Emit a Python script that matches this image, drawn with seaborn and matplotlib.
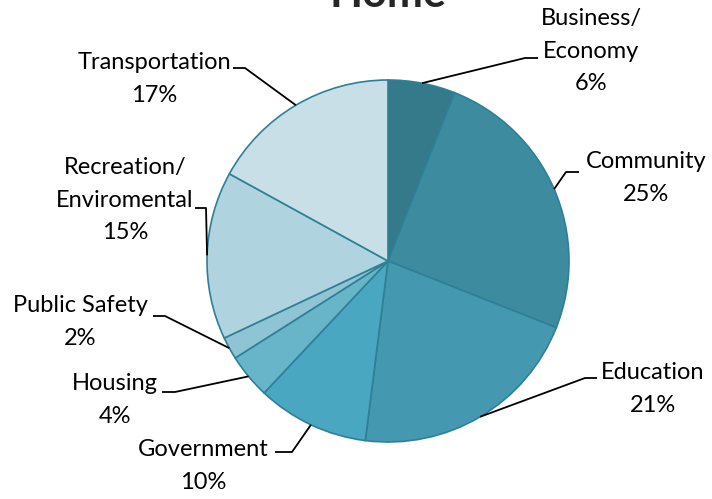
import numpy as np
import matplotlib.pyplot as plt
import seaborn as sns

categories = ['Business/\nEconomy', 'Community', 'Education', 'Government',
              'Housing', 'Public Safety', 'Recreation/\nEnviromental', 'Transportation']
shares = [6, 25, 21, 10, 4, 2, 15, 17]
colors = ['#347A8B', '#3C8B9F', '#4499B0', '#49A7C1',
          '#68B5CA', '#8FC4D4', '#AFD3DF', '#C8DFE7']

sns.set_style('white')
plt.rcParams['font.family'] = ['Lato', 'DejaVu Sans']

W, H = 712, 499
cx, cy, r = 388, H - 261, 181

# label layout in pixels (y measured from top): text centre, elbow, leader end
layout = [
    ((591, 51), (525, 58), (538, 58)),
    ((646, 178), (566, 172), (579, 172)),
    ((653, 389), (585, 378), (597, 378)),
    ((203, 466), (292, 452), (275, 452)),
    ((115, 400), (175, 392), (162, 392)),
    ((80, 322), (165, 316), (153, 316)),
    ((125, 200), (206, 208), (195, 208)),
    ((154, 79), (245, 68), (233, 68)),
]

fig = plt.figure(figsize=(W / 100, H / 100), dpi=100)
ax = fig.add_axes([0, 0, 1, 1])
wedges, _ = ax.pie(shares, colors=colors, startangle=90, counterclock=False,
                   center=(cx, cy), radius=r,
                   wedgeprops=dict(edgecolor='#2F8096', linewidth=1.2))
ax.set_xlim(0, W)
ax.set_ylim(0, H)
ax.set_aspect('equal')
ax.axis('off')

for w, cat, pct, (txt, elbow, end) in zip(wedges, categories, shares, layout):
    mid = np.deg2rad((w.theta1 + w.theta2) / 2)
    sx, sy = cx + r * np.cos(mid), cy + r * np.sin(mid)
    ax.plot([sx, elbow[0], end[0]], [sy, H - elbow[1], H - end[1]],
            color='black', lw=1.3, solid_capstyle='butt', zorder=1)
    ax.text(txt[0], H - txt[1], f'{cat}\n{pct}%', ha='center', va='center',
            fontsize=17, linespacing=1.7, color='black')

ax.text(cx, H - 7, 'Home', ha='center', va='baseline', fontsize=31,
        fontweight='bold')

fig.savefig('out.png', dpi=100)
